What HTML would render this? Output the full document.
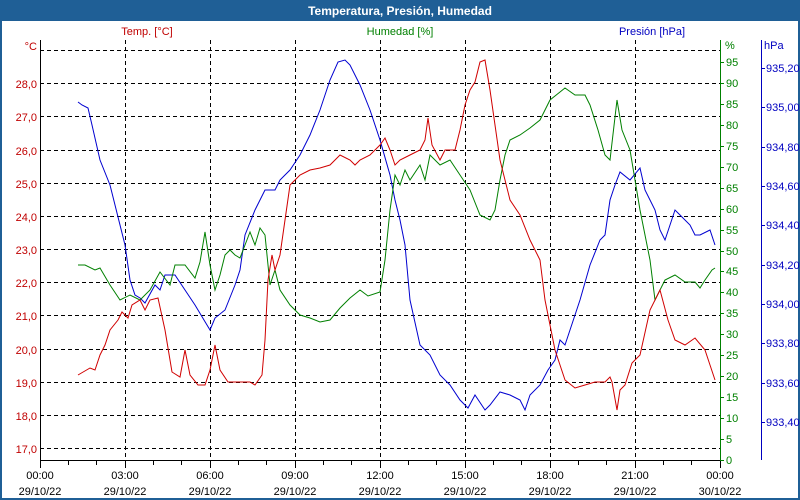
<!DOCTYPE html><html><head><meta charset="utf-8"><style>body{margin:0;width:800px;height:500px;overflow:hidden;background:#fff}svg{display:block}text{font-family:"Liberation Sans",sans-serif;font-size:11px}</style></head><body>
<svg width="800" height="500" xmlns="http://www.w3.org/2000/svg">
<rect x="0" y="0" width="800" height="500" fill="#fff"/>
<rect x="0" y="0" width="800" height="21" fill="#1f5f96"/>
<rect x="0" y="0" width="2" height="500" fill="#1f5f96"/><rect x="798" y="0" width="2" height="500" fill="#1f5f96"/><rect x="0" y="498" width="800" height="2" fill="#1f5f96"/>
<text x="400" y="15" text-anchor="middle" fill="#fff" font-weight="bold" style="font-size:12px">Temperatura, Presión, Humedad</text>
<text x="147" y="35" text-anchor="middle" fill="#c00000">Temp. [°C]</text>
<text x="400" y="35" text-anchor="middle" fill="#008000">Humedad [%]</text>
<text x="652" y="35" text-anchor="middle" fill="#0000c0">Presión [hPa]</text>
<g stroke="#000" stroke-dasharray="4,3" stroke-width="1">
<line x1="40" x2="720" y1="50.5" y2="50.5"/><line x1="40" x2="720" y1="83.5" y2="83.5"/><line x1="40" x2="720" y1="116.5" y2="116.5"/><line x1="40" x2="720" y1="150.5" y2="150.5"/><line x1="40" x2="720" y1="183.5" y2="183.5"/><line x1="40" x2="720" y1="216.5" y2="216.5"/><line x1="40" x2="720" y1="249.5" y2="249.5"/><line x1="40" x2="720" y1="282.5" y2="282.5"/><line x1="40" x2="720" y1="315.5" y2="315.5"/><line x1="40" x2="720" y1="349.5" y2="349.5"/><line x1="40" x2="720" y1="382.5" y2="382.5"/><line x1="40" x2="720" y1="415.5" y2="415.5"/><line x1="40" x2="720" y1="448.5" y2="448.5"/>
<line y1="40" y2="460" x1="125.5" x2="125.5"/><line y1="40" y2="460" x1="210.5" x2="210.5"/><line y1="40" y2="460" x1="295.5" x2="295.5"/><line y1="40" y2="460" x1="380.5" x2="380.5"/><line y1="40" y2="460" x1="465.5" x2="465.5"/><line y1="40" y2="460" x1="550.5" x2="550.5"/><line y1="40" y2="460" x1="635.5" x2="635.5"/>
</g>
<line x1="40.5" y1="40" x2="40.5" y2="460" stroke="#000"/>
<line x1="40" y1="460.5" x2="720" y2="460.5" stroke="#000"/>
<line x1="720.5" y1="40" x2="720.5" y2="461" stroke="#008000"/>
<line x1="761.5" y1="40" x2="761.5" y2="460" stroke="#0000c0"/>
<g stroke="#000"><path d="M68.5 460v5M96.5 460v5M125.5 460v8M153.5 460v5M181.5 460v5M210.5 460v8M238.5 460v5M266.5 460v5M295.5 460v8M323.5 460v5M351.5 460v5M380.5 460v8M408.5 460v5M436.5 460v5M465.5 460v8M493.5 460v5M521.5 460v5M550.5 460v8M578.5 460v5M606.5 460v5M635.5 460v8M663.5 460v5M691.5 460v5M40.5 460v8M720.5 460v8"/></g>
<g fill="#c00000" text-anchor="end">
<text x="37" y="50">°C</text><text x="37" y="88">28,0</text><text x="37" y="121">27,0</text><text x="37" y="155">26,0</text><text x="37" y="188">25,0</text><text x="37" y="221">24,0</text><text x="37" y="254">23,0</text><text x="37" y="287">22,0</text><text x="37" y="320">21,0</text><text x="37" y="354">20,0</text><text x="37" y="387">19,0</text><text x="37" y="420">18,0</text><text x="37" y="453">17,0</text>
</g>
<g fill="#008000"><text x="725" y="49">%</text>
<path d="M720 62.5h4M720 83.5h4M720 104.5h4M720 125.5h4M720 146.5h4M720 167.5h4M720 188.5h4M720 209.5h4M720 230.5h4M720 251.5h4M720 271.5h4M720 292.5h4M720 313.5h4M720 334.5h4M720 355.5h4M720 376.5h4M720 397.5h4M720 418.5h4M720 439.5h4M720 460.5h4" stroke="#008000"/>
<text x="726" y="66">95</text><text x="726" y="87">90</text><text x="726" y="108">85</text><text x="726" y="129">80</text><text x="726" y="150">75</text><text x="726" y="171">70</text><text x="726" y="192">65</text><text x="726" y="213">60</text><text x="726" y="234">55</text><text x="726" y="255">50</text><text x="726" y="275">45</text><text x="726" y="296">40</text><text x="726" y="317">35</text><text x="726" y="338">30</text><text x="726" y="359">25</text><text x="726" y="380">20</text><text x="726" y="401">15</text><text x="726" y="422">10</text><text x="726" y="443">5</text><text x="726" y="464">0</text></g>
<g fill="#0000c0"><text x="764" y="49">hPa</text>
<path d="M761 68.5h4M761 107.5h4M761 147.5h4M761 186.5h4M761 225.5h4M761 265.5h4M761 304.5h4M761 343.5h4M761 383.5h4M761 422.5h4" stroke="#0000c0"/>
<text x="766" y="72">935,20</text><text x="766" y="111">935,00</text><text x="766" y="151">934,80</text><text x="766" y="190">934,60</text><text x="766" y="229">934,40</text><text x="766" y="269">934,20</text><text x="766" y="308">934,00</text><text x="766" y="347">933,80</text><text x="766" y="387">933,60</text><text x="766" y="426">933,40</text></g>
<g fill="#000" text-anchor="middle">
<text x="40" y="479">00:00</text><text x="40" y="495">29/10/22</text>
<text x="125" y="479">03:00</text><text x="125" y="495">29/10/22</text>
<text x="210" y="479">06:00</text><text x="210" y="495">29/10/22</text>
<text x="295" y="479">09:00</text><text x="295" y="495">29/10/22</text>
<text x="380" y="479">12:00</text><text x="380" y="495">29/10/22</text>
<text x="465" y="479">15:00</text><text x="465" y="495">29/10/22</text>
<text x="550" y="479">18:00</text><text x="550" y="495">29/10/22</text>
<text x="635" y="479">21:00</text><text x="635" y="495">29/10/22</text>
<text x="720" y="479">00:00</text><text x="720" y="495">30/10/22</text>
</g>
<polyline fill="none" stroke="#0000d0" points="78,102 82,105 88,108 92,125 100,160 110,185 120,225 125,245 130,280 135,295 140,298 145,303 155,285 160,290 165,275 175,275 185,290 195,305 210,330 215,318 225,310 235,285 240,270 245,235 255,210 260,200 265,190 275,190 280,180 285,175 290,170 300,155 310,135 320,110 330,80 338,62 345,60 350,65 360,85 370,110 380,140 390,175 395,200 400,220 405,245 410,300 420,345 430,355 440,375 450,385 460,400 468,408 475,395 485,410 490,405 500,392 510,395 520,400 525,410 530,395 540,385 548,370 555,360 560,340 565,345 570,330 580,300 590,265 600,240 605,235 610,200 615,185 620,172 630,180 640,168 645,190 650,200 655,210 660,230 665,240 670,225 675,210 680,215 690,225 695,235 700,235 710,230 715,245"/>
<polyline fill="none" stroke="#008000" points="78,265 85,265 95,270 100,268 110,285 120,300 130,295 140,300 150,290 160,272 170,285 175,265 185,265 195,278 200,262 205,232 210,265 215,290 220,275 225,255 230,250 235,255 240,258 245,245 250,232 255,245 260,228 265,235 270,285 275,270 280,290 290,305 300,315 310,318 320,322 330,320 340,308 350,298 360,290 368,296 380,292 385,260 390,210 395,175 400,185 405,170 410,180 420,165 425,180 430,155 440,165 450,160 460,175 470,190 480,215 490,220 495,210 500,180 505,155 510,140 520,135 530,128 540,120 550,100 560,92 565,88 575,95 585,95 590,105 598,130 605,155 610,160 617,100 622,130 630,150 640,210 650,260 655,300 665,280 675,275 685,282 695,282 700,288 705,280 712,270 715,268"/>
<polyline fill="none" stroke="#d00000" points="78,375 90,368 95,370 100,355 105,345 110,330 118,320 122,312 128,318 132,305 140,300 145,310 150,300 158,298 165,330 172,372 180,377 185,350 190,375 198,385 205,385 210,370 215,345 220,370 228,382 240,382 250,382 255,385 262,375 265,340 268,280 272,255 275,270 280,255 285,220 290,185 300,175 310,170 320,168 330,165 340,155 350,160 355,165 360,160 370,155 380,145 385,138 390,150 395,165 400,160 410,155 420,150 425,140 428,118 432,145 440,160 445,150 455,150 460,130 465,105 470,90 475,82 480,62 485,60 490,90 500,160 510,200 520,215 530,240 540,260 545,300 555,350 565,380 575,388 585,385 595,382 605,382 610,377 612,382 617,410 620,390 625,385 632,363 640,355 650,310 660,290 668,320 675,340 685,345 695,338 705,350 710,365 715,380"/>
</svg></body></html>
